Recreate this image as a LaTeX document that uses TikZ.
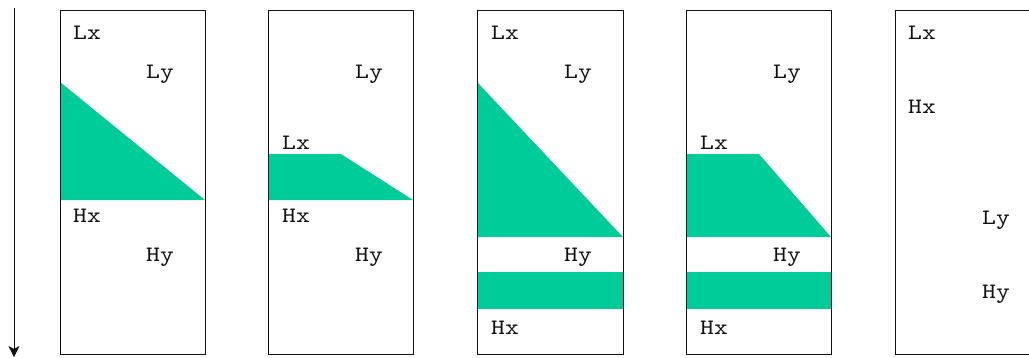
\documentclass[tikz,border=0pt]{standalone}
\usepackage{fontspec}
\newfontfamily\labfont[Extension=.otf, FakeStretch=1.2]{lmmono10-regular}
\usetikzlibrary{arrows.meta}
\definecolor{mint}{HTML}{00CC99}
\definecolor{ink}{HTML}{111111}
\tikzset{
  frame/.style={draw=ink, line width=0.9pt},
  area/.style={fill=mint, draw=none},
  lab/.style={anchor=base west, inner sep=0pt, text=ink,
    font=\labfont\fontsize{22pt}{26pt}\selectfont},
  arr/.style={-{Stealth[length=11pt,width=11pt,inset=3pt]}, line width=1pt, color=ink},
}
\begin{document}
\begin{tikzpicture}[x=1pt, y=-1pt]
    \useasboundingbox (0,0) rectangle (1029,357);
    \clip (0,0) rectangle (1029,357);
    % time axis
    \coordinate (t0) at (14,8);
    \coordinate (t1) at (14,357);
    \draw[arr] (t0) -- (t1);
    % filled regions
    \fill[area] (60,82) -- (205,200) -- (60,200) -- cycle;
    \fill[area] (268,154) -- (341,154) -- (413,200) -- (268,200) -- cycle;
    \fill[area] (477,82) -- (623,237) -- (477,237) -- cycle;
    \fill[area] (477,272) rectangle (623,309);
    \fill[area] (686,154) -- (759,154) -- (831,237) -- (686,237) -- cycle;
    \fill[area] (686,272) rectangle (831,309);
    % frames
    \draw[frame] (60,10) rectangle (205,354);
    \draw[frame] (268,10) rectangle (413,354);
    \draw[frame] (477,10) rectangle (623,354);
    \draw[frame] (686,10) rectangle (831,354);
    \draw[frame] (895,10) rectangle (1040,354);
    % labels, panel 1
    \node[lab] (lx1) at (73,39) {Lx};
    \node[lab] (ly1) at (146,78) {Ly};
    \node[lab] (hx1) at (73,222) {Hx};
    \node[lab] (hy1) at (146,261) {Hy};
    % panel 2
    \node[lab] (ly2) at (355,78) {Ly};
    \node[lab] (lx2) at (282,149) {Lx};
    \node[lab] (hx2) at (282,222) {Hx};
    \node[lab] (hy2) at (355,261) {Hy};
    % panel 3
    \node[lab] (lx3) at (491,39) {Lx};
    \node[lab] (ly3) at (564,78) {Ly};
    \node[lab] (hy3) at (564,261) {Hy};
    \node[lab] (hx3) at (491,334) {Hx};
    % panel 4
    \node[lab] (ly4) at (773,78) {Ly};
    \node[lab] (lx4) at (700,149) {Lx};
    \node[lab] (hy4) at (773,261) {Hy};
    \node[lab] (hx4) at (700,334) {Hx};
    % panel 5
    \node[lab] (lx5) at (908,39) {Lx};
    \node[lab] (hx5) at (908,113) {Hx};
    \node[lab] (ly5) at (982,224) {Ly};
    \node[lab] (hy5) at (982,298) {Hy};
\end{tikzpicture}
\end{document}
